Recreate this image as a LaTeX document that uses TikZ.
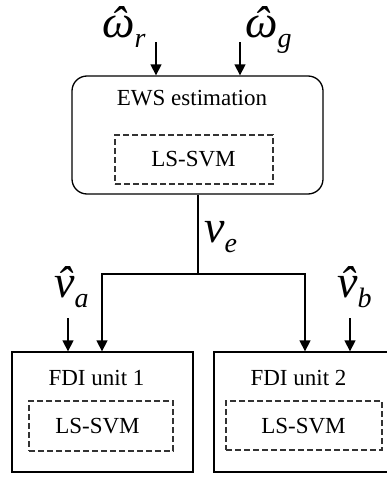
\documentclass[tikz,border=0pt]{standalone}
\usepackage{fontspec}
\setmainfont{Liberation Serif}
\usetikzlibrary{arrows.meta}
\newcommand{\hatted}[1]{\setbox0\hbox{#1}\rlap{\hbox to \wd0{\hss\raisebox{-1pt}{ˆ}\hss}}\box0}
\newcommand{\hatlbl}[2]{{\fontsize{46}{46}\selectfont\itshape\hatted{#1}}{\fontsize{28}{28}\selectfont\itshape\raisebox{-10pt}{#2}}}
\newcommand{\plainlbl}[2]{{\fontsize{46}{46}\selectfont\itshape #1}{\fontsize{28}{28}\selectfont\itshape\raisebox{-10pt}{#2}}}
\tikzset{
  box/.style={draw, line width=1.3pt, inner sep=0pt},
  dbox/.style={draw=black!80, line width=1.1pt, dash pattern=on 6pt off 3pt, inner sep=0pt},
  txt/.style={inner sep=0pt, font=\fontsize{23}{23}\selectfont, anchor=base},
  mlbl/.style={inner sep=0pt, anchor=base west},
  arr/.style={line width=1.3pt, -{Triangle[length=11pt,width=11pt]}},
  wire/.style={line width=1.3pt}
}
\begin{document}
\begin{tikzpicture}[x=1pt,y=-1pt]
\useasboundingbox (0,0) rectangle (387,479);
\clip (0,0) rectangle (387,479);
% top box
\node[box, rounded corners=15pt, minimum width=251pt, minimum height=118pt] (ews) at (197.5,135) {};
\node[dbox, minimum width=158pt, minimum height=49pt] (ewsin) at (194,159.5) {};
\node[txt] (ewst) at (192,105) {EWS estimation};
\node[txt] (ewss) at (193.5,166) {LS-SVM};
% inputs
\node[mlbl] (wr) at (102,37) {\hatlbl{ω}{r}};
\node[mlbl] (wg) at (245,37) {\hatlbl{ω}{g}};
\coordinate (wrs) at (156,42);
\coordinate (wgs) at (240,42);
\draw[arr] (wrs) -- (wrs |- ews.north);
\draw[arr] (wgs) -- (wgs |- ews.north);
% FDI boxes
\node[box, minimum width=181pt, minimum height=120pt] (fdi1) at (102.5,412) {};
\node[box, minimum width=176pt, minimum height=120pt] (fdi2) at (302,412) {};
\node[dbox, minimum width=144pt, minimum height=50pt] (fdi1in) at (101,426) {};
\node[dbox, minimum width=156pt, minimum height=49pt] (fdi2in) at (304,425.5) {};
\node[txt] (f1t) at (96.5,385) {FDI unit 1};
\node[txt] (f1s) at (97.5,433) {LS-SVM};
\node[txt] (f2t) at (298.5,385) {FDI unit 2};
\node[txt] (f2s) at (303.5,433) {LS-SVM};
% ve
\node[mlbl] (ve) at (204,242) {\plainlbl{v}{e}};
\coordinate (split) at (198,274);
\coordinate (l1) at (102,274);
\coordinate (l2) at (305,274);
\draw[wire] (ews.south -| split) -- (split);
\draw[arr] (split) -- (l1) -- (l1 |- fdi1.north);
\draw[arr] (split) -- (l2) -- (l2 |- fdi2.north);
% va vb
\node[mlbl] (va) at (54,297) {\hatlbl{v}{a}};
\node[mlbl] (vb) at (337,297) {\hatlbl{v}{b}};
\coordinate (vas) at (68,318);
\coordinate (vbs) at (350,318);
\draw[arr] (vas) -- (vas |- fdi1.north);
\draw[arr] (vbs) -- (vbs |- fdi2.north);
\end{tikzpicture}
\end{document}
